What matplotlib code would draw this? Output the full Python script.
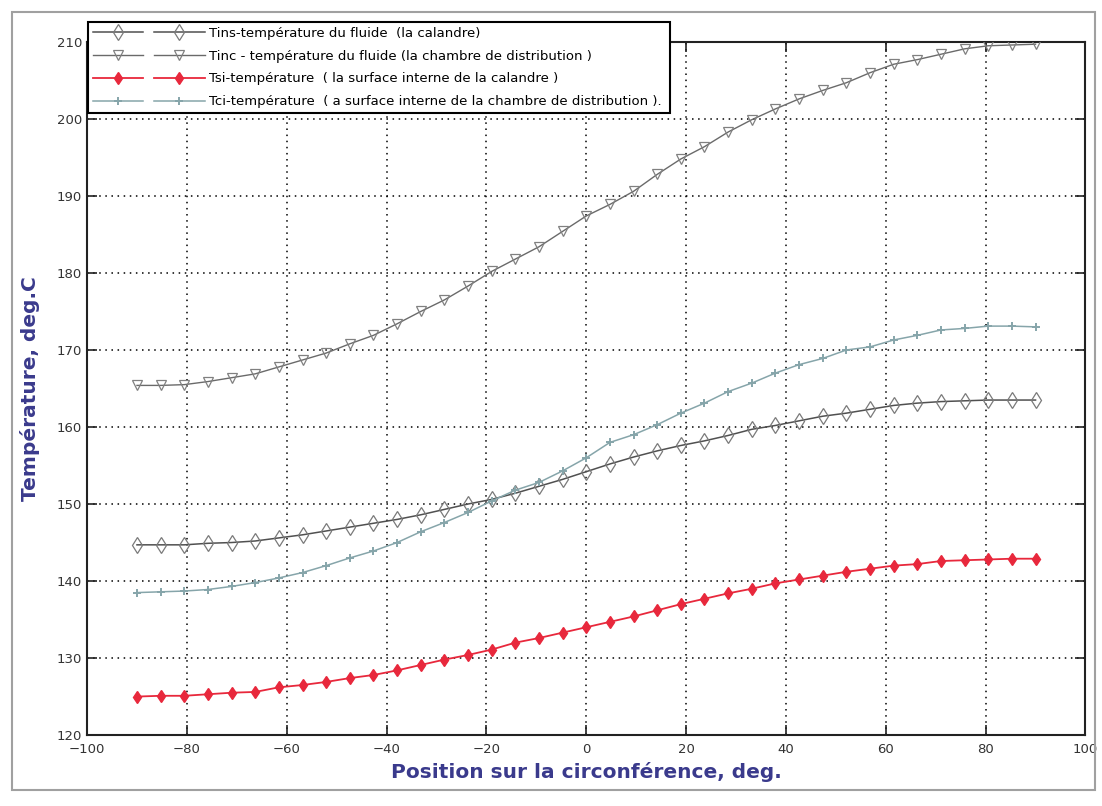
import numpy as np
import matplotlib
matplotlib.use("Agg")
import matplotlib.pyplot as plt
from matplotlib.lines import Line2D
from matplotlib.legend_handler import HandlerTuple
from matplotlib.patches import Rectangle

# Angular positions around the circumference (deg)
position_deg = np.linspace(-90, 90, 39)

# Tins: fluid temperature, shell side
t_ins = [144.7, 144.7, 144.7, 144.9, 145.0, 145.2, 145.6, 146.0, 146.5, 147.0,
         147.5, 148.0, 148.6, 149.3, 150.0, 150.6, 151.4, 152.3, 153.2, 154.2,
         155.2, 156.1, 156.9, 157.6, 158.2, 158.9, 159.7, 160.2, 160.8, 161.4,
         161.8, 162.3, 162.8, 163.1, 163.3, 163.4, 163.5, 163.5, 163.5]

# Tinc: fluid temperature, distribution chamber
t_inc = [165.4, 165.4, 165.5, 165.9, 166.4, 166.9, 167.8, 168.7, 169.6, 170.8,
         171.9, 173.4, 175.0, 176.5, 178.3, 180.2, 181.8, 183.4, 185.4, 187.4,
         188.9, 190.6, 192.8, 194.8, 196.4, 198.3, 199.9, 201.3, 202.6, 203.7,
         204.7, 206.0, 207.1, 207.7, 208.4, 209.1, 209.5, 209.6, 209.7]

# Tsi: inner wall temperature, shell
t_si = [125.0, 125.1, 125.1, 125.3, 125.5, 125.6, 126.2, 126.5, 126.9, 127.4,
        127.8, 128.4, 129.1, 129.8, 130.4, 131.1, 132.0, 132.6, 133.3, 134.0,
        134.7, 135.4, 136.2, 137.0, 137.7, 138.4, 139.0, 139.7, 140.2, 140.7,
        141.2, 141.6, 142.0, 142.2, 142.6, 142.7, 142.8, 142.9, 142.9]

# Tci: inner wall temperature, distribution chamber
t_ci = [138.5, 138.6, 138.7, 138.9, 139.3, 139.8, 140.4, 141.1, 142.0, 143.0,
        143.9, 145.0, 146.4, 147.6, 148.9, 150.4, 151.8, 152.8, 154.3, 156.0,
        158.0, 159.0, 160.3, 161.8, 163.1, 164.6, 165.7, 167.0, 168.1, 168.9,
        170.0, 170.4, 171.3, 171.9, 172.6, 172.8, 173.1, 173.1, 173.0]

labels = [
    "Tins-température du fluide  (la calandre)",
    "Tinc - température du fluide (la chambre de distribution )",
    "Tsi-température  ( la surface interne de la calandre )",
    "Tci-température  ( a surface interne de la chambre de distribution ).",
]

x_ticks = list(range(-100, 101, 20))
y_ticks = list(range(120, 211, 10))

fig = plt.figure(figsize=(11.02, 8.06), dpi=100, facecolor="white")
ax = fig.add_axes([0.079, 0.088, 0.906, 0.860])
ax.set_facecolor("white")

# outer frame of the figure
fig.patches.append(Rectangle((0.011, 0.02), 0.983, 0.965, transform=fig.transFigure,
                             fill=False, edgecolor="#a0a0a0", linewidth=1.5))

styles = [
    dict(color="#505050", marker="d", markersize=8, markerfacecolor="none",
         markeredgecolor="#7a7a7a", markeredgewidth=0.9, linewidth=1.1),
    dict(color="#6a6a6a", marker="v", markersize=6.5, markerfacecolor="none",
         markeredgecolor="#808080", markeredgewidth=0.9, linewidth=1.0),
    dict(color="#e8283c", marker="d", markersize=6, markerfacecolor="#e8283c",
         markeredgecolor="#e8283c", markeredgewidth=1.0, linewidth=1.3),
    dict(color="#86a5aa", marker="+", markersize=6, markeredgewidth=1.4,
         linewidth=1.1),
]
series = [t_ins, t_inc, t_si, t_ci]

handles = []
for values, st in zip(series, styles):
    ax.plot(position_deg, values, zorder=3, **st)
    handles.append((Line2D([], [], **st), Line2D([], [], **st)))

ax.set_xlim(-100, 100)
ax.set_ylim(120, 210)
ax.set_xticks(x_ticks)
ax.set_yticks(y_ticks)
ax.grid(True, color="black", linestyle=(0, (1, 3)), linewidth=1.1)
ax.set_axisbelow(True)
ax.tick_params(direction="in", length=7, width=1.2, top=True, right=True,
               labelsize=9.5, labelcolor="#333333", colors="#222222")
ax.tick_params(axis="x", pad=6)
for s in ax.spines.values():
    s.set_linewidth(1.5)
    s.set_color("#222222")

label_kw = dict(color="#3a3a8c", fontsize=14.5, fontweight="bold", family="DejaVu Sans")
ax.set_xlabel("Position sur la circonférence, deg.", labelpad=4, **label_kw)
ax.set_ylabel("Température, deg.C", labelpad=12, **label_kw)

leg_h = 0.136
leg = ax.legend(handles, labels,
                handler_map={tuple: HandlerTuple(ndivide=2, pad=0.8)},
                loc="upper left", mode="expand",
                bbox_to_anchor=(0.0799, 0.9727 - leg_h, 0.528, leg_h),
                bbox_transform=fig.transFigure,
                numpoints=1, handlelength=8.5, handletextpad=0.3,
                labelspacing=0.75, borderaxespad=0.0, borderpad=0.35,
                fancybox=False, framealpha=1.0, edgecolor="black",
                prop=dict(family=["Liberation Sans Narrow", "DejaVu Sans Condensed",
                                  "DejaVu Sans"], size=9.5))
leg.get_frame().set_linewidth(1.5)
leg.set_zorder(5)

fig.savefig("out.png", dpi=100, facecolor="white")
